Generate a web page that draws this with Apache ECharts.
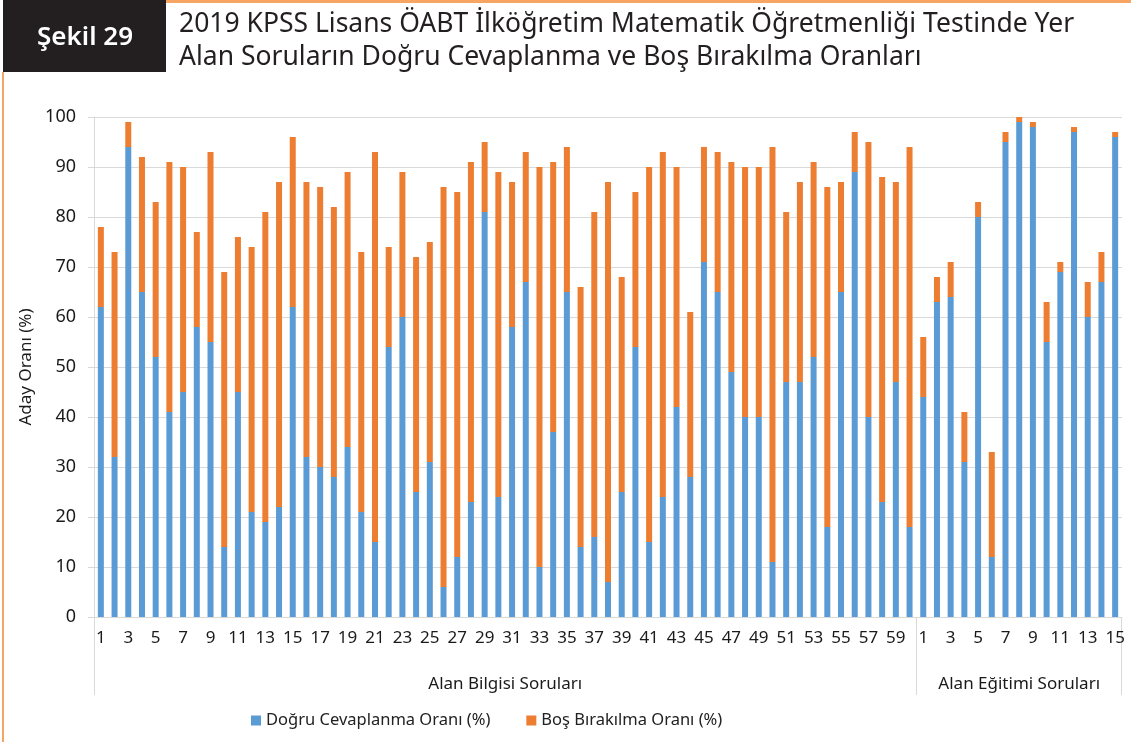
<!DOCTYPE html>
<html>
<head>
<meta charset="utf-8">
<title>Şekil 29</title>
<script src="https://cdn.jsdelivr.net/npm/echarts@6/dist/echarts.min.js"></script>
<style>
  html, body { margin: 0; padding: 0; background: #fff; }
  #main { width: 1131px; height: 742px; }
</style>
</head>
<body>
<div id="main"></div>
<script>
// soru numaralari (Alan Bilgisi 1-60, Alan Egitimi 1-15)
var bilgisiSorular = [];
for (var i = 1; i <= 60; i++) bilgisiSorular.push('B' + i);
var egitimiSorular = [];
for (var j = 1; j <= 15; j++) egitimiSorular.push('E' + j);
var sorular = bilgisiSorular.concat(egitimiSorular);

// Dogru cevaplanma orani (%)
var dogruBilgisi = [62, 32, 94, 65, 52, 41, 45, 58, 55, 14, 45, 21, 19, 22, 62, 32, 30, 28, 34, 21,
                    15, 54, 60, 25, 31, 6, 12, 23, 81, 24, 58, 67, 10, 37, 65, 14, 16, 7, 25, 54,
                    15, 24, 42, 28, 71, 65, 49, 40, 40, 11, 47, 47, 52, 18, 65, 89, 40, 23, 47, 18];
var dogruEgitimi = [44, 63, 64, 31, 80, 12, 95, 99, 98, 55, 69, 97, 60, 67, 96];

// Bos birakilma orani (%)
var bosBilgisi = [16, 41, 5, 27, 31, 50, 45, 19, 38, 55, 31, 53, 62, 65, 34, 55, 56, 54, 55, 52,
                  78, 20, 29, 47, 44, 80, 73, 68, 14, 65, 29, 26, 80, 54, 29, 52, 65, 80, 43, 31,
                  75, 69, 48, 33, 23, 28, 42, 50, 50, 83, 34, 40, 39, 68, 22, 8, 55, 65, 40, 76];
var bosEgitimi = [12, 5, 7, 10, 3, 21, 2, 1, 1, 8, 2, 1, 7, 6, 1];

var yTicks = { min: 0, max: 100, interval: 10 };
var gruplar = ['Alan Bilgisi Soruları', 'Alan Eğitimi Soruları'];
var seriAdlari = ['Doğru Cevaplanma Oranı (%)', 'Boş Bırakılma Oranı (%)'];

var FONT = 'Noto Sans';
var GRID_LEFT = 94, GRID_RIGHT = 9, GRID_TOP = 117, GRID_BOTTOM = 125;

var option = {
    backgroundColor: '#ffffff',
    animation: false,
    color: ['#5B9BD5', '#ED7D31'],
    grid: { left: GRID_LEFT, right: GRID_RIGHT, top: GRID_TOP, bottom: GRID_BOTTOM, containLabel: false },
    legend: {
        data: seriAdlari,
        left: 246, top: 707,
        itemWidth: 10, itemHeight: 10, itemGap: 36,
        icon: 'rect',
        textStyle: { fontFamily: FONT, fontSize: 16.5, color: '#222' }
    },
    xAxis: {
        type: 'category',
        data: sorular,
        axisLine: { show: true, lineStyle: { color: '#d9d9d9', width: 1 } },
        axisTick: { show: false },
        splitLine: { show: false },
        axisLabel: {
            margin: 13,
            fontFamily: FONT, fontSize: 17, color: '#1a1a1a',
            interval: function (idx, val) { return parseInt(val.slice(1), 10) % 2 === 1; },
            formatter: function (val) { return val.slice(1); }
        }
    },
    yAxis: {
        type: 'value',
        min: yTicks.min, max: yTicks.max, interval: yTicks.interval,
        name: 'Aday Oranı (%)',
        nameLocation: 'middle',
        nameGap: 58,
        nameTextStyle: { fontFamily: FONT, fontSize: 17, color: '#1a1a1a' },
        axisLine: { show: true, lineStyle: { color: '#d9d9d9' } },
        axisTick: { show: true, length: 6, lineStyle: { color: '#d9d9d9' } },
        splitLine: { show: true, lineStyle: { color: '#d9d9d9', width: 1 } },
        axisLabel: { margin: 18, fontFamily: FONT, fontSize: 18, color: '#1a1a1a' }
    },
    series: [
        { name: seriAdlari[0], type: 'bar', stack: 'toplam', barWidth: 6,
          data: dogruBilgisi.concat(dogruEgitimi) },
        { name: seriAdlari[1], type: 'bar', stack: 'toplam', barWidth: 6,
          data: bosBilgisi.concat(bosEgitimi) }
    ]
};

var chart = echarts.init(document.getElementById('main'));
chart.setOption(option);

// grup ayiricilari ve basliklar
var W = 1131, H = 742;
var xStart = GRID_LEFT, xEnd = W - GRID_RIGHT, yAxisY = H - GRID_BOTTOM;
var xMid = (chart.convertToPixel({ xAxisIndex: 0 }, bilgisiSorular[59]) +
            chart.convertToPixel({ xAxisIndex: 0 }, egitimiSorular[0])) / 2;
var lineStyle = { stroke: '#d9d9d9', lineWidth: 1 };

chart.setOption({
    graphic: [
        // cerceve (turuncu)
        { type: 'rect', shape: { x: 166, y: 0, width: W - 166, height: 3 }, style: { fill: '#F6A563' } },
        { type: 'rect', shape: { x: 2, y: 72, width: 2, height: H - 72 }, style: { fill: '#F6A563' } },
        // Sekil kutusu
        { type: 'rect', shape: { x: 3, y: 0, width: 163, height: 72 }, style: { fill: '#231F20' } },
        { type: 'text', x: 85, y: 38, style: { text: 'Şekil 29', fill: '#fff', font: '600 26px "Noto Sans"',
          textAlign: 'center', textVerticalAlign: 'middle' } },
        { type: 'text', x: 179, y: 24, style: { text: '2019 KPSS Lisans ÖABT İlköğretim Matematik Öğretmenliği Testinde Yer',
          fill: '#231F20', font: '26.5px "Noto Sans"', textVerticalAlign: 'middle' } },
        { type: 'text', x: 179, y: 57, style: { text: 'Alan Soruların Doğru Cevaplanma ve Boş Bırakılma Oranları',
          fill: '#231F20', font: '26.5px "Noto Sans"', textVerticalAlign: 'middle' } },
        // grup ayiricilari
        { type: 'line', shape: { x1: xStart + 0.5, y1: yAxisY, x2: xStart + 0.5, y2: 695 }, style: lineStyle },
        { type: 'line', shape: { x1: Math.round(xMid) + 0.5, y1: yAxisY, x2: Math.round(xMid) + 0.5, y2: 695 }, style: lineStyle },
        { type: 'line', shape: { x1: xEnd - 0.5, y1: yAxisY, x2: xEnd - 0.5, y2: 695 }, style: lineStyle },
        { type: 'text', x: (xStart + xMid) / 2, y: 684, style: { text: gruplar[0], fill: '#1a1a1a',
          font: '17px "Noto Sans"', textAlign: 'center', textVerticalAlign: 'middle' } },
        { type: 'text', x: (xMid + xEnd) / 2, y: 684, style: { text: gruplar[1], fill: '#1a1a1a',
          font: '17px "Noto Sans"', textAlign: 'center', textVerticalAlign: 'middle' } }
    ]
});
</script>
</body>
</html>
